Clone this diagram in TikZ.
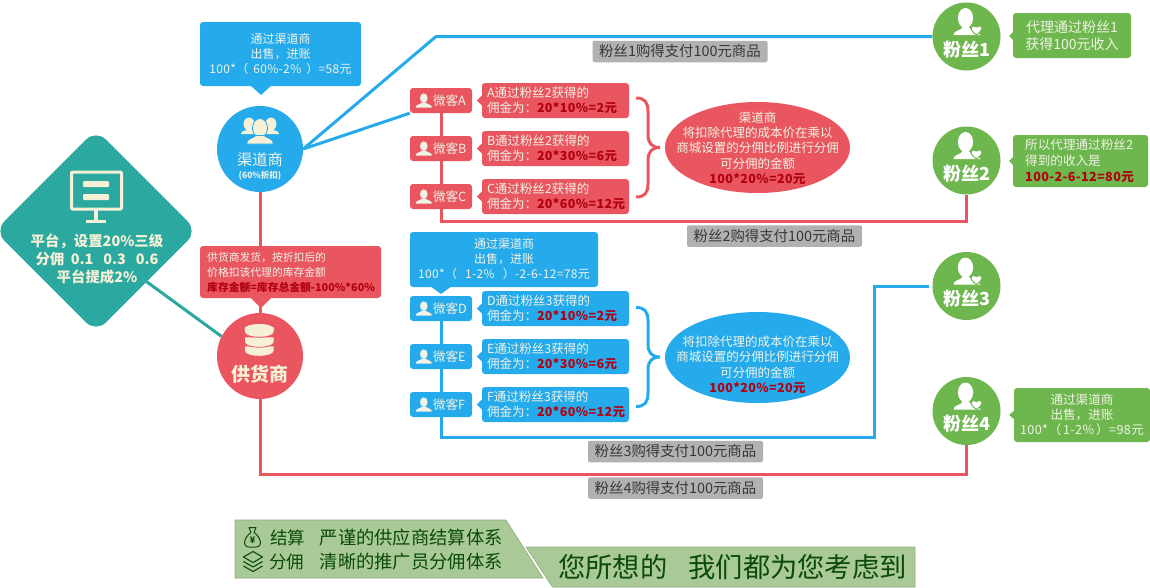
\documentclass[tikz,border=0pt]{standalone}
\usepackage{fontspec}
\setmainfont{Noto Sans CJK SC}
\usetikzlibrary{shapes.geometric,calc,backgrounds}
\definecolor{chanblue}{HTML}{25AAEC}
\definecolor{supred}{HTML}{E9565F}
\definecolor{fangreen}{HTML}{6EB64E}
\definecolor{platteal}{HTML}{2BA8A0}
\definecolor{cream}{HTML}{F6F1D6}
\definecolor{paletxt}{HTML}{F1F3E6}
\definecolor{amtred}{HTML}{B3000F}
\definecolor{tagrey}{HTML}{B1B1B1}
\definecolor{bannergreen}{HTML}{A9C996}
\definecolor{bannertxt}{HTML}{0B4A0B}
\newcommand{\amt}[1]{\textcolor{amtred}{\bfseries\addfontfeature{LetterSpace=3}#1}}
\newcommand{\stockamt}[1]{\textcolor{amtred}{\bfseries #1}}
\newcommand{\numline}[1]{{\addfontfeature{LetterSpace=3}#1}}
\newcommand{\lpar}[1]{（\hspace{#1pt}}
\newcommand{\rpar}[1]{\hspace{#1pt}）}
\tikzset{
    txt/.style={font=\fontsize{#1}{#1}\selectfont, text=paletxt, align=center, inner sep=0pt},
    bubble/.style={fill=#1, rounded corners=3pt, inner sep=0pt, text=paletxt},
    disc/.style={circle, fill=#1, minimum size=86pt, inner sep=0pt},
    fandisc/.style={circle, fill=fangreen, minimum size=68pt, inner sep=0pt},
    wire/.style={draw=#1, line width=3pt},
    tag/.style={fill=tagrey, rounded corners=2pt, inner sep=0pt, minimum height=21.5pt, minimum width=175pt,
        font=\fontsize{14.4}{17}\selectfont, text=black!78},
    banner/.style={fill=bannergreen, draw=bannergreen!85!black, line width=.6pt},
    bannertext/.style={anchor=west, inner sep=0pt, text=bannertxt, font=\fontsize{#1}{#1}\selectfont},
    wkicon/.pic={
        \fill[paletxt] (0,-2.4) ellipse [x radius=3.8, y radius=4.8];
        \fill[paletxt] (-8,7) .. controls (-8,3.5) and (-3,4) .. (-1.8,2) -- (1.8,2) .. controls (3,4) and (8,3.5) .. (8,7) -- cycle;
    },
    fanicon/.pic={
        \fill[white] (-1,-4) ellipse [x radius=7.6, y radius=10];
        \fill[white] (-13,13) .. controls (-13,8) and (-5,9) .. (-4,5) -- (2,5) .. controls (4,9) and (12,8) .. (14,13) -- cycle;
        \filldraw[white, draw=fangreen, line width=1pt] (10,13) .. controls (1,7) and (5,1.5) .. (10,5) .. controls (15,1.5) and (19,7) .. (10,13) -- cycle;
    }
}
\begin{document}
\begin{tikzpicture}[x=1pt, y=-1pt]
    \useasboundingbox (0,0) rectangle (1150,587);

    % platform, dealer, supplier
    \node[diamond, fill=platteal, rounded corners=14pt, minimum width=203pt, minimum height=203pt, inner sep=0pt] (plat) at (96,231) {};
    \node[txt=14.4, font=\fontsize{14.4}{17.6}\selectfont\bfseries, text=cream] (plattext) at (97,259) {平台，设置20\%三级\\分佣~~0.1~~~0.3~~~0.6\\平台提成2\%};
    \node[disc=chanblue] (chan) at (260,149) {};
    \node[txt=15.3] (chantext) at (260,160) {渠道商};
    \node[txt=8.5, font=\fontsize{8.5}{10}\selectfont\bfseries] (chanrate) at (260,176) {(60\%折扣)};
    \node[disc=supred] (sup) at (260,356) {};
    \node[txt=19, font=\fontsize{19}{22}\selectfont\bfseries, text=cream] (suptext) at (259.5,374) {供货商};

    \node[bubble=chanblue, minimum width=161pt, minimum height=64pt] (chantip) at (280.5,54) {};
    \node[txt=12, font=\fontsize{12}{15.4}\selectfont] (chantiptext) at (chantip) {通过渠道商\\出售，进账\\\numline{100*\lpar{5}60\%-2\%\rpar{5}=58元}};
    \fill[chanblue] (250,85) -- (261,95) -- (272,85) -- cycle;
    \node[bubble=supred, minimum width=181pt, minimum height=52pt] (suptip) at (290.5,272) {};
    \node[txt=10.8, font=\fontsize{10.8}{15}\selectfont, align=left, anchor=west] (suptiptext) at (207,272) {供货商发货，按折扣后的\\价格扣该代理的库存金额\\\stockamt{库存金额=库存总金额-100\%*60\%}};
    \fill[supred] (250,297) -- (261,308) -- (272,297) -- cycle;

    % fans
    \foreach \no/\fy in {1/36.5,2/160.5,3/286,4/411}{
        \node[fandisc] (fan\no) at (966.5,\fy) {};
        \pic at ($(fan\no)+(0,-14.5)$) {fanicon};
        \node[txt=18, font=\fontsize{18}{20}\selectfont\bfseries, text=white] (fantext\no) at ($(fan\no)+(0,13)$) {粉丝\no};
    }
    \node[bubble=fangreen, minimum width=118pt, minimum height=45pt] (fantip1) at (1072,35.5) {};
    \node[txt=14, font=\fontsize{14}{17}\selectfont] (fantiptext1) at (fantip1) {代理通过粉丝1\\获得100元收入};
    \fill[fangreen] (1014,31) -- (1009,36) -- (1014,41) -- cycle;
    \node[bubble=fangreen, minimum width=135pt, minimum height=52pt] (fantip2) at (1080.5,161) {};
    \node[txt=12.6, font=\fontsize{12.6}{16}\selectfont, align=left, anchor=west] (fantiptext2) at (1025,161) {所以代理通过粉丝2\\得到的收入是\\\amt{100-2-6-12=80元}};
    \fill[fangreen] (1014,156) -- (1009,161) -- (1014,166) -- cycle;
    \node[bubble=fangreen, minimum width=136pt, minimum height=54pt] (fantip4) at (1082,415) {};
    \node[txt=12.6, font=\fontsize{12.6}{15}\selectfont] (fantiptext4) at (fantip4) {通过渠道商\\出售，进账\\\numline{100*\lpar{2}1-2\%\rpar{2}=98元}};
    \fill[fangreen] (1015,410) -- (1009,415) -- (1015,420) -- cycle;

    % wechat sellers and their commission
    \foreach \ltr/\cy/\fno/\rate/\val/\col in {A/100.5/2/10/2/supred,B/148.5/2/30/6/supred,C/196.5/2/60/12/supred,
        D/308.5/3/10/2/chanblue,E/356.5/3/30/6/chanblue,F/404.5/3/60/12/chanblue}{
        \node[bubble=\col, minimum width=62pt, minimum height=25pt] (wk\ltr) at (441,\cy) {};
        \pic at ($(wk\ltr.west)+(14,0)$) {wkicon};
        \node[txt=12.6, anchor=west] (wktext\ltr) at ($(wk\ltr.west)+(23,0)$) {微客\ltr};
        \node[bubble=\col, minimum width=147pt, minimum height=35pt] (com\ltr) at (555.5,\cy) {};
        \node[txt=12.5, font=\fontsize{12.5}{15}\selectfont, align=left, anchor=west] (comtext\ltr) at ($(com\ltr.west)+(5,0)$) {\ltr 通过粉丝\fno 获得的\\佣金为：\amt{20*\rate\%=\val 元}};
        \fill[\col] ($(com\ltr.west)+(0,-5)$) -- ($(com\ltr.west)+(-5,0)$) -- ($(com\ltr.west)+(0,5)$) -- cycle;
    }
    \node[bubble=chanblue, minimum width=188pt, minimum height=55pt] (midtip) at (504,259.5) {};
    \node[txt=12, font=\fontsize{12}{15}\selectfont] (midtiptext) at (midtip) {通过渠道商\\出售，进账\\\numline{100*\lpar{8}1-2\%\rpar{8}-2-6-12=78元}};
    \fill[chanblue] (430,286) -- (441,294) -- (452,286) -- cycle;

    % braces and pools
    \foreach \cy/\col in {147.5/supred,357/chanblue}{
        \draw[\col, line width=3pt] (636,\cy-49.5) .. controls (645,\cy-49.5) and (648,\cy-45) .. (648,\cy-36)
            -- (648,\cy-13) .. controls (648,\cy-4) and (652,\cy) .. (660,\cy) .. controls (652,\cy) and (648,\cy+4) .. (648,\cy+13)
            -- (648,\cy+36) .. controls (648,\cy+45) and (645,\cy+49.5) .. (636,\cy+49.5);
    }
    \node[ellipse, fill=supred, minimum width=185pt, minimum height=91pt, inner sep=0pt] (poolA) at (757.5,147.5) {};
    \node[txt=12.5, font=\fontsize{12.5}{15.3}\selectfont] (pooltextA) at (757.5,148) {渠道商\\将扣除代理的成本价在乘以\\商城设置的分佣比例进行分佣\\可分佣的金额\\\amt{100*20\%=20元}};
    \node[ellipse, fill=chanblue, minimum width=185pt, minimum height=91pt, inner sep=0pt] (poolB) at (757.5,357.5) {};
    \node[txt=12.5, font=\fontsize{12.5}{15.3}\selectfont] (pooltextB) at (757.5,364.7) {将扣除代理的成本价在乘以\\商城设置的分佣比例进行分佣\\可分佣的金额\\\amt{100*20\%=20元}};

    % tags on the wires
    \node[tag] (tag1) at (680,51.5) {粉丝1购得支付100元商品};
    \node[tag] (tag2) at (774.5,236) {粉丝2购得支付100元商品};
    \node[tag] (tag3) at (675.5,451.5) {粉丝3购得支付100元商品};
    \node[tag] (tag4) at (675.5,488) {粉丝4购得支付100元商品};

    % wires
    \coordinate (bendA) at (436,36.5);
    \coordinate (bendB) at (966.5,221);
    \coordinate (bendC) at (874,437);
    \coordinate (bendD) at (874,286);
    \coordinate (bendE) at (966.5,474);
    \begin{scope}[on background layer]
        \draw[wire=platteal] (plat.south east) -- (sup.153);
        \draw[wire=supred] (chan.south) -- (sup.north);
        \draw[wire=chanblue] (chan.east) -- (bendA) -- (fan1.west);
        \draw[wire=chanblue] (chan.east) -- (wkA.south west);
        \draw[wire=supred] (wkA.south) -- (wkB.north);
        \draw[wire=supred] (wkB.south) -- (wkC.north);
        \draw[wire=supred] (wkC.south) |- (bendB) -- (fan2.south);
        \draw[wire=chanblue] (wkD.south) -- (wkE.north);
        \draw[wire=chanblue] (wkE.south) -- (wkF.north);
        \draw[wire=chanblue, shorten >=3pt] (wkF.south) |- (bendC) -- (bendD) -- (fan3.west);
        \draw[wire=supred] (sup.south) |- (bendE) -- (fan4.south);
    \end{scope}

    % icons
    \draw[cream, line width=3pt, rounded corners=1pt] (71.5,172) rectangle (121.5,209);
    \fill[cream, rounded corners=1pt] (83,181) rectangle (109,187);
    \fill[cream, rounded corners=1pt] (83,194) rectangle (109,200);
    \fill[cream] (94,210) rectangle (98,220);
    \fill[cream] (86,220) rectangle (106,223);

    \fill[cream] (249,124) ellipse [x radius=5.5, y radius=6.5];
    \fill[cream] (271,124) ellipse [x radius=5.5, y radius=6.5];
    \fill[cream] (241,134) .. controls (241,130) and (247,131) .. (249,129) .. controls (251,131) and (269,131) .. (271,129) .. controls (273,131) and (279,130) .. (279,134) -- cycle;
    \fill[cream, draw=chanblue, line width=.8pt] (260,128) ellipse [x radius=7.5, y radius=9.5];
    \fill[cream, draw=chanblue, line width=.8pt] (246.5,144) .. controls (246.5,138) and (254,138) .. (256,135.5) -- (264,135.5) .. controls (266,138) and (273.5,138) .. (273.5,144) -- cycle;

    \foreach \dy in {351,342,332}{
        \fill[cream, draw=supred, line width=.8pt] (244.5,\dy-5) -- (244.5,\dy) .. controls (244.5,\dy+7) and (274,\dy+7) .. (274,\dy) -- (274,\dy-5) -- cycle;
    }
    \fill[cream] (259.2,329) ellipse [x radius=14.8, y radius=5];

    % bottom banners
    \filldraw[banner] (235,520) -- (506,520) -- (543,578) -- (235,578) -- cycle;
    \filldraw[banner] (526,547) -- (915,547) -- (915,587) -- (552.5,587) -- cycle;
    \node[bannertext=17.5] (settle) at (270,537.5) {结算};
    \node[bannertext=18.3] (settledesc) at (319.5,537.5) {严谨的供应商结算体系};
    \node[bannertext=17.5] (share) at (269,561.5) {分佣};
    \node[bannertext=18.3] (sharedesc) at (319.5,561.5) {清晰的推广员分佣体系};
    \node[bannertext=27.3] (slogan) at (558,567.5) {您所想的\hspace{21pt}我们都为您考虑到};

    \draw[bannertxt, line width=1pt, line join=round] (249,527.5) -- (256,527.5) -- (254,532.5) .. controls (261,537) and (263,547) .. (256,547) -- (249,547) .. controls (242,547) and (244,537) .. (251,532.5) -- cycle;
    \node[inner sep=0pt, text=bannertxt, font=\fontsize{9}{9}\selectfont\bfseries] (bagmark) at (252.5,540.5) {¥};
    \draw[bannertxt, line width=1.1pt, line join=round] (253,551.5) -- (262.5,557) -- (253,562.5) -- (243.5,557) -- cycle;
    \draw[bannertxt, line width=1.1pt, line join=round] (243.5,561.5) -- (253,567) -- (262.5,561.5);
    \draw[bannertxt, line width=1.1pt, line join=round] (243.5,566) -- (253,571.5) -- (262.5,566);
\end{tikzpicture}
\end{document}
